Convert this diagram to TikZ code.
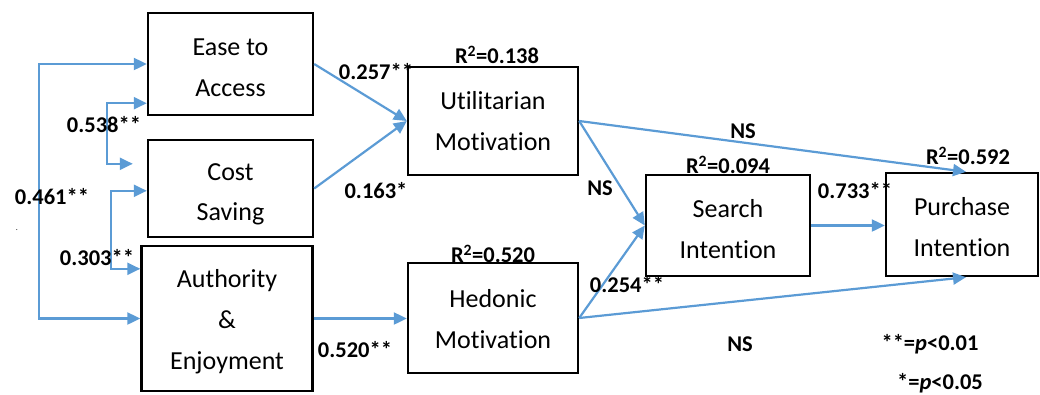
\documentclass[tikz,border=0pt]{standalone}
\usepackage{fontspec}
\setmainfont{Carlito}[Ligatures=NoCommon]
\usetikzlibrary{arrows.meta}
\definecolor{lineblue}{HTML}{5B9BD5}
\tikzset{
  box/.style={draw=black, line width=2.4pt, inner sep=0pt},
  boxtext/.style={align=center, inner sep=0pt, font=\fontsize{26}{41}\selectfont},
  conn/.style={draw=lineblue, line width=2.2pt,
    -{Triangle[length=13pt,width=12pt]}},
  conn2/.style={draw=lineblue, line width=2.2pt,
    {Triangle[length=13pt,width=12pt]}-{Triangle[length=13pt,width=12pt]}},
  lab/.style={font=\fontsize{22.5}{26}\selectfont\bfseries, inner sep=0pt}
}
\begin{document}
\begin{tikzpicture}[x=1pt,y=-1pt]
\useasboundingbox (0,0) rectangle (1040,394);
% boxes
\node[box, minimum width=165pt, minimum height=102pt] (ease) at (230.5,64) {};
\node[box, minimum width=165pt, minimum height=97pt] (cost) at (230.5,188.5) {};
\node[box, minimum width=171pt, minimum height=145pt] (auth) at (227,318.5) {};
\node[box, minimum width=170pt, minimum height=108pt] (util) at (493,121) {};
\node[box, minimum width=170pt, minimum height=110pt] (hed) at (493,318) {};
\node[box, minimum width=164pt, minimum height=101pt] (search) at (728,225.5) {};
\node[box, minimum width=152pt, minimum height=103pt] (purch) at (962,224.5) {};
% box texts
\node[boxtext] (easeT) at ([yshift=-3.5pt]ease.center) {Ease to\\Access};
\node[boxtext, font=\fontsize{26}{40}\selectfont] (costT) at ([yshift=-6pt]cost.center) {Cost\\Saving};
\node[boxtext] (authT) at ([yshift=-3.5pt]auth.center) {Authority\\\&\\Enjoyment};
\node[boxtext] (utilT) at (util.center) {Utilitarian\\Motivation};
\node[boxtext] (hedT) at ([yshift=-1.5pt]hed.center) {Hedonic\\Motivation};
\node[boxtext] (searchT) at ([yshift=-4pt]search.center) {Search\\Intention};
\node[boxtext] (purchT) at ([yshift=-3pt]purch.center) {Purchase\\Intention};
% left brackets
\draw[conn2] (ease.west) -- ++(-108,0) |- (auth.west);
\draw[conn2] ([yshift=13pt]ease.south west) -- ++(-40,0) |- ([xshift=-14pt,yshift=-25pt]cost.north west);
\draw[conn2] ([yshift=-52pt]cost.north west) -- ++(-36,0) |- ([yshift=-24pt]auth.north west);
% paths
\draw[conn] (ease.east) -- (util.west);
\draw[conn] (cost.east) -- (util.west);
\draw[conn] (auth.east) -- (auth.east -| hed.west);
\draw[conn] (util.east) -- (search.west);
\draw[conn] (hed.east) -- (search.west);
\draw[conn] (util.east) -- ([xshift=4pt]purch.north);
\draw[conn] (hed.east) -- ([xshift=4pt]purch.south);
\draw[conn] (search.east) -- (search.east -| purch.west);
% labels
\node[lab] (l538) at (104,125) {0.538**};
\node[lab] (l461) at (52,197) {0.461**};
\node[lab] (l303) at (97,258) {0.303**};
\node[font=\fontsize{8}{8}\selectfont, inner sep=0pt] (dot) at (17,230) {.};
\node[lab] (l257) at (376,72) {0.257**};
\node[lab] (l163) at (376,191) {0.163*};
\node[lab] (l520) at (355,350) {0.520**};
\node[lab] (r138) at (497,55) {R\textsuperscript{2}=0.138};
\node[lab] (r520) at (493,254) {R\textsuperscript{2}=0.520};
\node[lab] (r094) at (728,165) {R\textsuperscript{2}=0.094};
\node[lab] (r592) at (968,156) {R\textsuperscript{2}=0.592};
\node[lab] (ns1) at (743,131) {NS};
\node[lab] (ns2) at (600,188) {NS};
\node[lab] (ns3) at (740,344) {NS};
\node[lab] (l733) at (855,191) {0.733**};
\node[lab] (l254) at (627,285) {0.254**};
\node[lab] (p01) at (930,344) {**=\textit{p}<0.01};
\node[lab] (p05) at (940,383) {*=\textit{p}<0.05};
\end{tikzpicture}
\end{document}
